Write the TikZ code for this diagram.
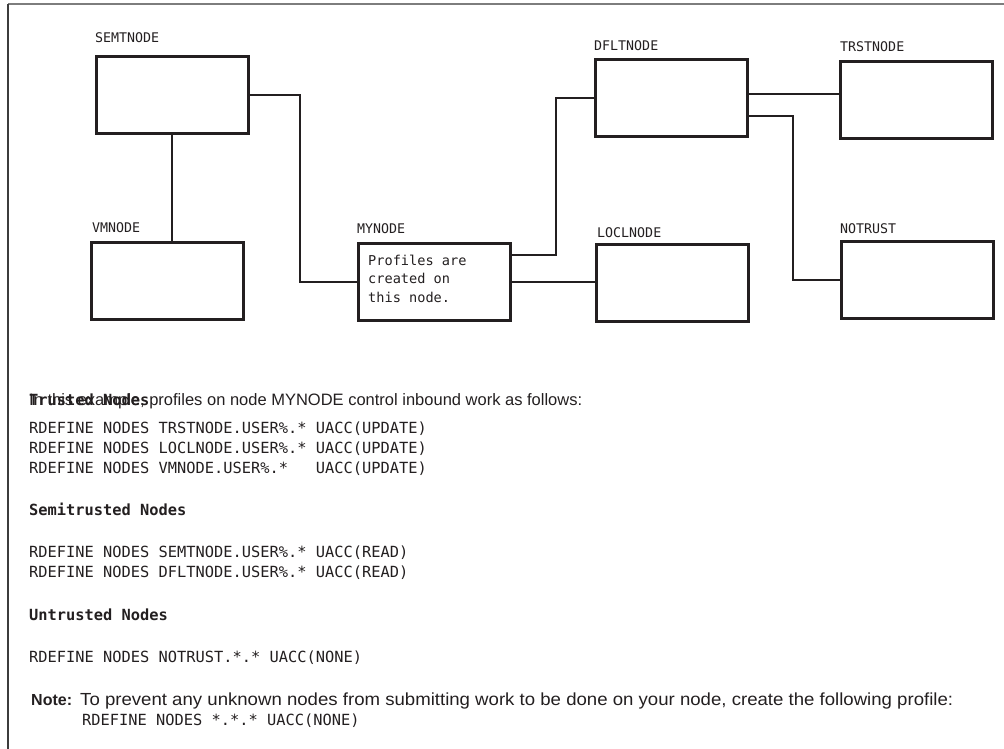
\documentclass[tikz,border=0pt]{standalone}
\usepackage{fontspec}
\usepackage{graphicx}
\setmainfont{Liberation Sans}
\newfontfamily\codefont{DejaVu Sans Mono}

\definecolor{ink}{RGB}{35,31,32}
\definecolor{frametop}{RGB}{125,125,125}
\definecolor{frameleft}{RGB}{60,60,60}

% stretch or squeeze a line horizontally to a given width, keeping its height
\newcommand{\fitto}[2]{\resizebox{#1}{\height}{#2}}

\tikzset{
  nodebox/.style={draw=ink, line width=2.6pt, minimum width=152pt, minimum height=77pt,
    inner sep=0pt, anchor=north west},
  link/.style={draw=ink, line width=2.1pt},
  nodelabel/.style={anchor=base west, inner sep=0pt, text=ink,
    font=\codefont\fontsize{13.3}{16}\selectfont},
  boxtext/.style={anchor=base west, inner sep=0pt, text=ink,
    font=\codefont\fontsize{13.6}{16}\selectfont},
  codeline/.style={anchor=base west, inner sep=0pt, text=ink,
    font=\codefont\fontsize{15.36}{18}\selectfont},
  codehead/.style={anchor=base west, inner sep=0pt, text=ink,
    font=\codefont\bfseries\fontsize{15.36}{18}\selectfont},
  prose/.style={anchor=base west, inner sep=0pt, text=ink,
    font=\fontsize{16.5}{19}\selectfont},
  noteprose/.style={anchor=base west, inner sep=0pt, text=ink,
    font=\fontsize{17.5}{20}\selectfont},
  notehead/.style={anchor=base west, inner sep=0pt, text=ink,
    font=\bfseries\fontsize{16}{19}\selectfont},
}

\begin{document}
\begin{tikzpicture}[x=1pt, y=-1pt]
  \useasboundingbox (0,0) rectangle (1004,749);

  % page frame (top and left edges)
  \draw[frametop, line width=1.3pt] (8,4) -- (1004,4);
  \draw[frameleft, line width=1.2pt] (8,4) -- (8,749);

  % network nodes
  \node[nodebox] (semt)  at (95,55)   {};
  \node[nodebox] (vm)    at (90,241)  {};
  \node[nodebox] (my)    at (357,242) {};
  \node[nodebox] (locl)  at (595,243) {};
  \node[nodebox] (dflt)  at (594,58)  {};
  \node[nodebox] (trst)  at (839,60)  {};
  \node[nodebox] (notr)  at (840,240) {};

  % node names
  \node[nodelabel] (semtname) at (95,43)  {SEMTNODE};
  \node[nodelabel] (vmname)   at (92,232) {VMNODE};
  \node[nodelabel] (myname)   at (357,233) {MYNODE};
  \node[nodelabel] (loclname) at (597,237) {LOCLNODE};
  \node[nodelabel] (dfltname) at (594,51) {DFLTNODE};
  \node[nodelabel] (trstname) at (840,52) {TRSTNODE};
  \node[nodelabel] (notrname) at (840,233) {NOTRUST};

  % text inside MYNODE
  \node[boxtext] (mytext1) at (368,265) {Profiles are};
  \node[boxtext] (mytext2) at (368,283) {created on};
  \node[boxtext] (mytext3) at (368,302) {this node.};

  % connections
  \draw[link] (semt.east) -- ++(50,0) |- (my.west);
  \draw[link] (semt.south) -- (semt.south |- vm.north);
  \draw[link] ([yshift=26.5pt]my.east) -- ++(44,0) |- (dflt.west);
  \draw[link] (my.east) -- (my.east -| locl.west);
  \draw[link] ([yshift=4pt]dflt.east) -- ([yshift=4pt]dflt.east -| trst.west);
  \draw[link] ([yshift=-18pt]dflt.east) -- ++(44,0) |- (notr.west);

  % profile definitions
  \node[prose] (intro) at (29,405) {In this example, profiles on node MYNODE control inbound work as follows:};
  \node[codehead] (trusted) at (29,405) {Trusted Nodes};
  \node[codeline] (rd1) at (29,433) {RDEFINE NODES TRSTNODE.USER\%.* UACC(UPDATE)};
  \node[codeline] (rd2) at (29,453) {RDEFINE NODES LOCLNODE.USER\%.* UACC(UPDATE)};
  \node[codeline] (rd3) at (29,473) {RDEFINE NODES VMNODE.USER\%.*\ \ \ UACC(UPDATE)};

  \node[codehead] (semi) at (29,515) {Semitrusted Nodes};
  \node[codeline] (rd4) at (29,557) {RDEFINE NODES SEMTNODE.USER\%.* UACC(READ)};
  \node[codeline] (rd5) at (29,577) {RDEFINE NODES DFLTNODE.USER\%.* UACC(READ)};

  \node[codehead] (untr) at (29,620) {Untrusted Nodes};
  \node[codeline] (rd6) at (29,662) {RDEFINE NODES NOTRUST.*.* UACC(NONE)};

  \node[notehead] (note) at (31,705) {Note:};
  \node[noteprose] (notetext) at (80,705) {\fitto{873pt}{To prevent any unknown nodes from submitting work to be done on your node, create the following profile:}};
  \node[codeline] (rd7) at (82,725) {RDEFINE NODES *.*.* UACC(NONE)};
\end{tikzpicture}
\end{document}
